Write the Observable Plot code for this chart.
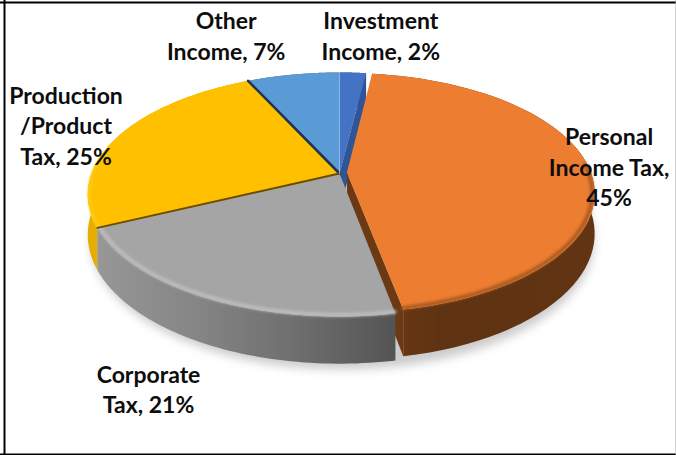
<!DOCTYPE html>
<html>
<head>
<meta charset="utf-8">
<script src="https://cdn.jsdelivr.net/npm/d3@7"></script>
<script src="https://cdn.jsdelivr.net/npm/@observablehq/plot@0.6"></script>
<style>
  html, body { margin: 0; padding: 0; background: #fff; }
  svg { display: block; }
</style>
</head>
<body>
<div id="chart"></div>
<script>
// Revenue shares, clockwise from twelve o'clock.
const shares = [2, 45, 21, 25, 7];
const labelStems = ["Investment\nIncome, ", "Personal\nIncome Tax,\n", "Corporate\nTax, ", "Production\n/Product\nTax, ", "Other\nIncome, "];
const topColors = ["#4472c4", "#ed7d31", "#a5a5a5", "#ffc000", "#5b9bd5"];
const wallColors = ["#2f5597", "url(#wallOrange)", "url(#wallGray)", "#e6ae00", "#3f76a8"];
const labelOffsets = [[28, -38], [23, -4], [-58, 90], [-53, -11], [-67, -40]];

// Tilted-disc projection: the near half of the pie is drawn larger than the far half.
const tilt = 0.172, depth = 0.33, pxX = 248, pxY = 118.4, cx = 339, cy = 173;
const explodedIndex = 1;
const explode = [0.03, -0.008];
const explodedRadius = 0.985;
const width = 676, height = 455;

function project(theta, r, z, i) {
  const exploded = i === explodedIndex;
  const radius = exploded ? r * explodedRadius : r;
  const X = radius * Math.sin(theta) + (exploded ? explode[0] : 0);
  const Y = -radius * Math.cos(theta) + (exploded ? explode[1] : 0);
  const k = 1 / (1 - tilt * Y);
  return { x: X * k, y: (Y + z * depth) * k };
}

const total = d3.sum(shares);
let cumulative = 0;
const slices = shares.map((share, i) => {
  const a0 = cumulative / total * 2 * Math.PI;
  cumulative += share;
  const a1 = cumulative / total * 2 * Math.PI;
  return { i, share, a0, a1, mid: (a0 + a1) / 2, label: labelStems[i] + share + "%" };
});

const arcFrom = (s, a0, a1, r, z) =>
  d3.range(0, 61).map((j) => project(a0 + (a1 - a0) * j / 60, r, z, s.i));
const rim = (s, z) => arcFrom(s, s.a0, s.a1, 1, z);
const topFace = (s) => [project(0, 0, 0, s.i), ...rim(s, 0)];
const outerWall = (s) => [...rim(s, 0), ...rim(s, 1).reverse()];
const cutFace = (s, a) => [project(a, 0, 0, s.i), project(a, 1, 0, s.i), project(a, 1, 1, s.i), project(a, 0, 1, s.i)];
const edge = (s, a) => [project(a, 0, 0, s.i), project(a, 1, 0, s.i)];

const fillPoly = (pts, fill, extra = {}) =>
  Plot.line(pts, { x: "x", y: "y", fill, stroke: "none", ...extra });
const strokePath = (pts, stroke, strokeWidth, extra = {}) =>
  Plot.line(pts, { x: "x", y: "y", stroke, strokeWidth, ...extra });

const gradients = () => {
  const defs = d3.create("svg:defs");
  const add = (id, stops) => {
    const g = defs.append("linearGradient").attr("id", id);
    stops.forEach(([o, c]) => g.append("stop").attr("offset", o).attr("stop-color", c));
  };
  add("wallGray", [[0, "#979797"], [0.35, "#848484"], [0.7, "#6c6c6c"], [1, "#545454"]]);
  add("wallOrange", [[0, "#7d4317"], [0.09, "#6a3813"], [0.3, "#5f3312"], [1, "#613413"]]);
  return defs.node();
};

const [inv, per, cor, pro, oth] = slices;
const baseShadow = d3.range(0, 121).map((j) => {
  const p = project(j / 120 * 2 * Math.PI, 1, 1, -1);
  return { x: p.x + 0.012, y: p.y + 0.05 };
});

// Soft bevels follow only the front part of each rim, just inside the edge.
const bevels = [
  [per, 1.5, per.a1, 0.99, "#a2561e", 3.5],
  [cor, cor.a0, cor.a1, 0.99, "#bfbfbf", 3.5],
  [pro, pro.a0, 4.9, 0.995, "#ffd21f", 2]
];

const marks = [
  gradients,
  fillPoly(baseShadow, "#000", { fillOpacity: 0.2, imageFilter: "blur(5px)" }),
  ...[oth, inv, pro].map((s) => fillPoly(outerWall(s), wallColors[s.i])),
  fillPoly(cutFace(inv, inv.a1), "#2f5597"),
  fillPoly(outerWall(per), wallColors[1]),
  fillPoly(cutFace(per, per.a1), "#6b3914"),
  fillPoly(outerWall(cor), wallColors[2]),
  ...[inv, oth, pro, cor, per].map((s) => fillPoly(topFace(s), topColors[s.i])),
  ...bevels.map(([s, a0, a1, r, color, w]) =>
    strokePath(arcFrom(s, a0, a1, r, 0), color, w, { imageFilter: "blur(1.6px)" })
  ),
  strokePath(edge(pro, pro.a1), "#1f3554", 2.6),
  strokePath(edge(pro, pro.a0), "#6b4c00", 2),
  strokePath(edge(inv, inv.a0), "#8fb6e0", 1),
  ...slices.map((s) => {
    const anchor = project(s.mid, 1, 0, -1);
    return Plot.text([s], {
      x: () => anchor.x,
      y: () => anchor.y,
      text: "label",
      dx: labelOffsets[s.i][0],
      dy: labelOffsets[s.i][1],
      fill: "#0d0d0d",
      fontSize: 23,
      fontWeight: 700,
      lineHeight: 1.33,
      textAnchor: "middle",
      lineAnchor: "middle"
    });
  })
];

const plot = Plot.plot({
  width,
  height,
  margin: 0,
  axis: null,
  style: { fontFamily: "Lato", background: "#fff" },
  x: { domain: [-cx / pxX, (width - cx) / pxX], range: [0, width] },
  y: { domain: [-cy / pxY, (height - cy) / pxY], range: [0, height] },
  marks: [
    ...marks,
    Plot.frame({ anchor: "left", stroke: "#000", strokeWidth: 2, insetLeft: 4 }),
    Plot.frame({ anchor: "top", stroke: "#000", strokeWidth: 2, insetTop: 2 }),
    Plot.frame({ anchor: "bottom", stroke: "#000", strokeWidth: 2, insetBottom: 1 }),
    Plot.frame({ anchor: "right", stroke: "#aaa", strokeWidth: 2 })
  ]
});
document.getElementById("chart").append(plot);
</script>
</body>
</html>
